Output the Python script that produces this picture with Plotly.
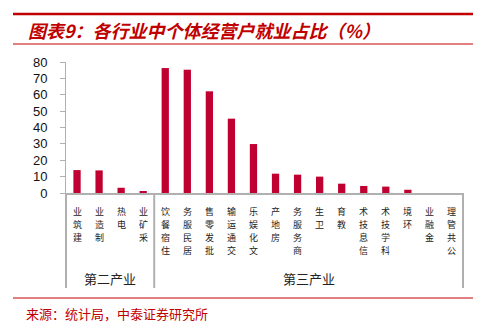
import plotly.graph_objects as go

categories = ["建筑业", "制造业", "电热", "采矿业",
              "住宿餐饮", "居民服务", "批发零售", "交通运输", "文化娱乐", "房地产",
              "商务服务", "卫生", "教育", "信息技术", "科学技术", "环境", "金融业", "公共管理"]
values = [14.0, 13.8, 3.2, 1.0,
          76.3, 75.3, 62.1, 45.4, 29.9, 11.8,
          11.2, 10.0, 5.7, 4.3, 3.9, 2.0, 0.0, 0.0]
groups = [("第二产业", 4), ("第三产业", 14)]
y_ticks = [0, 10, 20, 30, 40, 50, 60, 70, 80]

title_text = "图表9：各行业中个体经营户就业占比（%）"
source_text = "来源：统计局，中泰证券研究所"

RED = "#C00000"
BAR = "#C00030"
GRAY = "#B0B0B0"
CJK = "Noto Sans CJK SC"

W, H = 489, 332
L, R, T, B = 66, 26, 62, 139
pw = W - L - R
ph = H - T - B

def px(x):
    return (x - L) / pw

def py(y):
    return (H - B - y) / ph

fig = go.Figure()
fig.add_trace(go.Bar(x=list(range(len(categories))), y=values,
                     marker=dict(color=BAR, line=dict(width=0)), width=0.33,
                     hovertext=categories))

fig.update_layout(
    width=W, height=H,
    margin=dict(l=L, r=R, t=T, b=B),
    paper_bgcolor="white", plot_bgcolor="white",
    showlegend=False,
    xaxis=dict(
        range=[-0.5, len(categories) - 0.5],
        showline=True, linecolor=GRAY, linewidth=2,
        showgrid=False, ticks="", zeroline=False, showticklabels=False,
    ),
    yaxis=dict(
        range=[0, 80], tickvals=y_ticks,
        showline=True, linecolor=GRAY, linewidth=1,
        ticks="outside", ticklen=5, tickcolor=GRAY, tickwidth=1,
        showgrid=False, zeroline=False,
        tickfont=dict(family="Liberation Sans, Arial", size=13, color="#111111"),
        ticklabelstandoff=10,
    ),
)

shapes = []
# title lines
shapes.append(dict(type="line", xref="paper", yref="paper",
                   x0=px(13), x1=px(473), y0=py(14), y1=py(14),
                   line=dict(color=RED, width=2.5)))
shapes.append(dict(type="line", xref="paper", yref="paper",
                   x0=px(13), x1=px(473), y0=py(44), y1=py(44),
                   line=dict(color=RED, width=1)))
# footer line
shapes.append(dict(type="line", xref="paper", yref="paper",
                   x0=px(13), x1=px(473), y0=py(298), y1=py(298),
                   line=dict(color=RED, width=1)))
# group separators
n = len(categories)
bounds = [0]
for _, cnt in groups:
    bounds.append(bounds[-1] + cnt)
for b in bounds:
    shapes.append(dict(type="line", xref="paper", yref="paper",
                       x0=b / n, x1=b / n, y0=0, y1=py(288),
                       line=dict(color=GRAY, width=2)))
fig.update_layout(shapes=shapes)

annotations = []
# vertical category labels: characters stacked, reading bottom-to-top
pitch = 13.3
for i, cat in enumerate(categories):
    for k, ch in enumerate(reversed(cat)):
        annotations.append(dict(text=ch, xref="x", yref="paper",
                                x=i, y=py(211 + k * pitch),
                                xanchor="center", yanchor="middle", showarrow=False,
                                font=dict(family=CJK, size=9, color="#222222")))
for i, (name, cnt) in enumerate(groups):
    annotations.append(dict(text=name, xref="paper", yref="paper",
                            x=(bounds[i] + bounds[i + 1]) / 2 / n, y=py(278),
                            xanchor="center", yanchor="middle", showarrow=False,
                            font=dict(family=CJK, size=13, color="#222222")))
annotations.append(dict(text="<b><i>" + title_text + "</i></b>", xref="paper", yref="paper",
                        x=px(26), y=py(30), xanchor="left", yanchor="middle", showarrow=False,
                        font=dict(family=CJK, size=18, color=RED)))
annotations.append(dict(text=source_text, xref="paper", yref="paper",
                        x=px(24), y=py(313), xanchor="left", yanchor="middle", showarrow=False,
                        font=dict(family=CJK, size=13, color=RED)))
fig.update_layout(annotations=annotations)

fig.write_html("out.html")
